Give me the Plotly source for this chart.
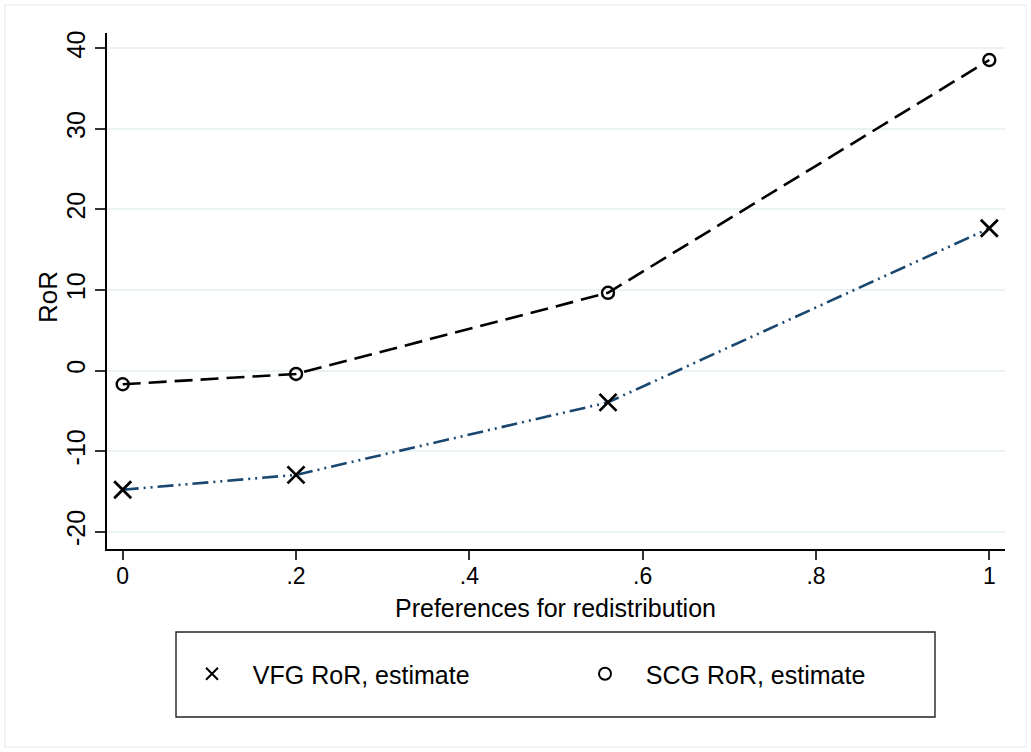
import plotly.graph_objects as go

# ---- data ----
pref = [0, 0.2, 0.56, 1]
vfg_ror = [-14.8, -12.95, -3.95, 17.65]
scg_ror = [-1.7, -0.42, 9.65, 38.55]
series_names = ["VFG RoR, estimate", "SCG RoR, estimate"]
x_tickvals = [0, 0.2, 0.4, 0.6, 0.8, 1]
x_ticktext = ["0", ".2", ".4", ".6", ".8", "1"]
y_tickvals = [-20, -10, 0, 10, 20, 30, 40]
y_ticktext = ["-20", "-10", "0", "10", "20", "30", "40"]
x_title = "Preferences for redistribution"
y_title = "RoR"

FONT = "Liberation Sans, Arial, sans-serif"
NAVY = "#1a476f"
GRID = "#eaf2f3"
NB = "\u00a0\u00a0\u00a0"

fig = go.Figure()

# lines
fig.add_trace(go.Scatter(x=pref, y=vfg_ror, mode="lines", showlegend=False,
                         line=dict(color=NAVY, width=2.6, dash="16px,5px,2px,5px,2px,5px"),
                         hoverinfo="skip"))
fig.add_trace(go.Scatter(x=pref, y=scg_ror, mode="lines", showlegend=False,
                         line=dict(color="black", width=2.6, dash="18px,8px"),
                         hoverinfo="skip"))
# markers
fig.add_trace(go.Scatter(x=pref, y=vfg_ror, mode="markers", name=NB + series_names[0],
                         marker=dict(symbol="x-thin-open", size=17, color="black",
                                     line=dict(color="black", width=2.8))))
fig.add_trace(go.Scatter(x=pref, y=scg_ror, mode="markers", name=NB + series_names[1],
                         marker=dict(symbol="circle-open", size=12, color="black",
                                     line=dict(color="black", width=2.4))))

# layout geometry (pixels)
L, R, T, B = 107, 26, 33, 203
W, H = 1031, 752
pw, ph = W - L - R, H - T - B

def px2x(p):
    return (p - L) / pw

def py2y(p):
    return (H - B - p) / ph

shapes = [
    # outer frame
    dict(type="rect", xref="paper", yref="paper",
         x0=px2x(5), x1=px2x(1026), y0=py2y(747), y1=py2y(5),
         line=dict(color=GRID, width=1.5), fillcolor="rgba(0,0,0,0)", layer="below"),
    # legend box
    dict(type="rect", xref="paper", yref="paper",
         x0=px2x(176), x1=px2x(935), y0=py2y(717), y1=py2y(632),
         line=dict(color="#222", width=1.4), fillcolor="rgba(0,0,0,0)"),
]

annotations = [
    dict(text=x_title, xref="paper", yref="paper", x=px2x(555), y=py2y(608),
         xanchor="center", yanchor="middle", showarrow=False, font=dict(size=25)),
    dict(text=y_title, xref="paper", yref="paper", x=px2x(48), y=py2y(297),
         xanchor="center", yanchor="middle", showarrow=False, textangle=-90, font=dict(size=26)),
]

fig.update_layout(
    width=W, height=H,
    margin=dict(l=L, r=R, t=T, b=B, pad=0),
    paper_bgcolor="white", plot_bgcolor="white",
    font=dict(family=FONT, size=25, color="black"),
    shapes=shapes,
    annotations=annotations,
    showlegend=True,
    legend=dict(orientation="h", x=px2x(192), y=py2y(674), xanchor="left", yanchor="middle",
                font=dict(family=FONT, size=25, color="black"),
                bgcolor="rgba(0,0,0,0)", borderwidth=0, entrywidth=348, entrywidthmode="pixels",
                itemsizing="constant"),
    xaxis=dict(range=[-0.0181, 1.0181], tickvals=x_tickvals, ticktext=x_ticktext,
               showgrid=False, zeroline=False, showline=True, linecolor="black", linewidth=1.5,
               ticks="outside", ticklen=9, tickwidth=1.5, tickcolor="#333",
               tickfont=dict(size=23), ticklabelstandoff=-3, automargin=False),
    yaxis=dict(range=[-22.15, 41.9], tickvals=y_tickvals, ticktext=y_ticktext, tickangle=-90,
               showgrid=True, gridcolor=GRID, gridwidth=1.5, zeroline=False,
               showline=True, linecolor="black", linewidth=1.5,
               ticks="outside", ticklen=10, tickwidth=1.5, tickcolor="#333",
               tickfont=dict(size=25), automargin=False),
)

fig.write_html("out.html", config={"displayModeBar": False},
               post_script="document.body.style.margin='0';")
